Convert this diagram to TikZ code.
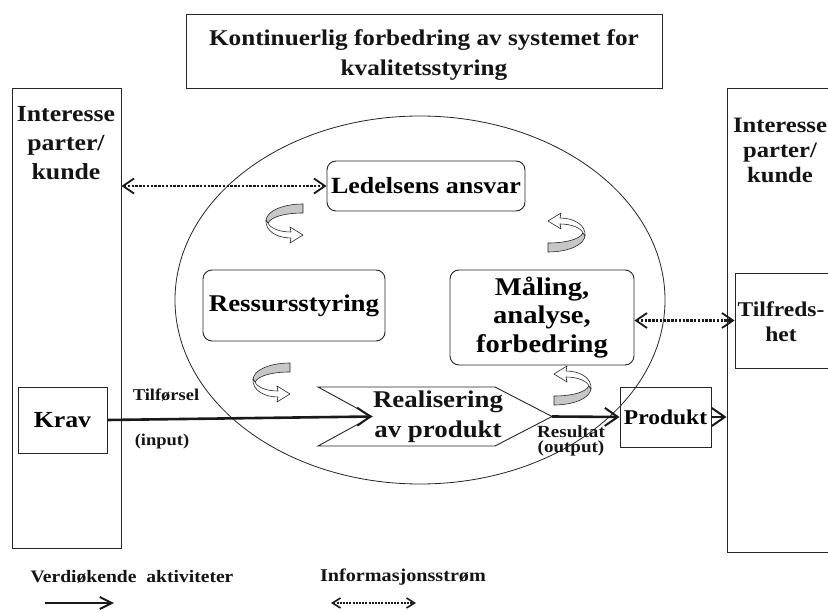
\documentclass[tikz,border=0pt]{standalone}
\usepackage{fontspec}
\setmainfont{Liberation Serif}[FakeStretch=1.12]
\usetikzlibrary{arrows.meta}
\newcommand\tsize[2]{\fontsize{#1}{#2}\selectfont\bfseries}

\begin{document}
\begin{tikzpicture}[x=1pt,y=-1pt,
  frame/.style={draw=black!85, line width=0.9pt, inner sep=0pt},
  rframe/.style={draw=black!85, line width=0.9pt, rounded corners=9pt, inner sep=0pt},
  lbl/.style={align=center, inner sep=0pt, text=black!92},
  flow/.style={line width=2.6pt, draw=black!90, -{Straight Barb[length=13pt,width=18pt,line width=2pt]}},
  info/.style={line width=2.4pt, draw=black!90, dash pattern=on 2.4pt off 1.4pt,
    {Straight Barb[length=11pt,width=15pt,line width=1.8pt]}-{Straight Barb[length=11pt,width=15pt,line width=1.8pt]}},
  back/.style={fill=black!22, draw=black!85, line width=0.6pt, line join=round},
  front/.style={fill=white, draw=black!85, line width=0.6pt, line join=round},
  twirl/.pic={
    \path[back] (38,0) -- (38,9) .. controls (22,9) and (7,12) .. (3,19)
      -- (1,17) .. controls (1,7) and (18,0) .. (38,0) -- cycle;
    \path[front] (1,16) .. controls (0,27) and (12,34) .. (26,34) -- (25,39) -- (38,31)
      -- (25,23) -- (26,28) .. controls (14,28) and (5,24) .. (3,19) -- cycle;
  },
]
\clip (0,0) rectangle (828,612);
\fill[white] (0,0) rectangle (828,612);

% heading
\node[frame, minimum width=476pt, minimum height=74pt] (title) at (424,51) {};
\node[lbl, font=\tsize{22.5}{30}] (titletext) at (424,55)
  {Kontinuerlig forbedring av systemet for\\kvalitetsstyring};

% the process circle
\draw[black!85, line width=0.8pt] (420,300) ellipse [x radius=245, y radius=184];

% stakeholders on both sides
\node[frame, minimum width=109pt, minimum height=460pt] (lstake) at (66.5,318) {};
\node[lbl, font=\tsize{23}{29}] (ltext) at (66,143) {Interesse\\parter/\\kunde};
\node[frame, minimum width=133pt, minimum height=464pt] (rstake) at (793.5,320) {};
\node[lbl, font=\tsize{22}{25}] (rtext) at (780,150) {Interesse\\parter/\\kunde};

\node[frame, minimum width=89pt, minimum height=66pt, font=\tsize{23}{28}] (krav) at (62.5,420) {Krav};
\node[frame, minimum width=125pt, minimum height=95pt] (tilf) at (797.5,320.5) {};
\node[lbl, font=\tsize{21}{25}] (tilftext) at (781,322) {Tilfreds-\\het};
\node[frame, minimum width=91pt, minimum height=60pt, font=\tsize{21}{25}] (prod) at (665.5,417) {Produkt};

% processes
\node[rframe, minimum width=198pt, minimum height=50pt, font=\tsize{23.2}{28}] (led) at (426,186) {Ledelsens ansvar};
\node[rframe, minimum width=182pt, minimum height=71pt, font=\tsize{24}{28}] (res) at (294,305.5) {Ressursstyring};
\node[rframe, minimum width=184pt, minimum height=95pt, font=\tsize{25.5}{28.5}, align=center] (maal) at (542,317.5) {Måling,\\analyse,\\forbedring};

% product realisation arrow shape
\coordinate (rnotch) at (372,416.5);
\coordinate (rtip) at (552,416.5);
\draw[black!85, line width=0.9pt, fill=white, line join=miter]
  (318,387) -- (495,387) -- (rtip) -- (495,446) -- (318,446) -- (rnotch) -- cycle;
\node[lbl, font=\tsize{24}{30}] (real) at (438,417) {Realisering\\av produkt};

% value-adding flow
\draw[flow] (krav.east) -- (rnotch);
\draw[flow] (rtip) -- (prod.west);
\draw[flow] (prod.east) -- (rstake.west |- prod.east);
\node[lbl, font=\tsize{16.5}{18}] (inlbl) at (166,395) {Tilførsel};
\node[lbl, font=\tsize{16.5}{18}] (inlbl2) at (162,442) {(input)};
\node[lbl, font=\tsize{17}{15.5}] (outlbl) at (571,441) {Resultat\\(output)};

% information flow
\draw[info] (lstake.east |- led.west) -- (led.west);
\draw[info] (maal.east |- tilf.west) -- (tilf.west);

% improvement cycle arrows
\pic at (265,204) {twirl};
\pic at (252,363) {twirl};
\pic[rotate=180] at (586,252) {twirl};
\pic[rotate=180] at (592,405) {twirl};

% legend
\node[lbl, font=\tsize{17.5}{20}] (leg1) at (132,577) {Verdiøkende\ \ aktiviteter};
\node[lbl, font=\tsize{18}{20}] (leg2) at (403,577) {Informasjonsstrøm};
\coordinate (leg1a) at (45,603);
\coordinate (leg1b) at (114,603);
\coordinate (leg2a) at (331,603);
\coordinate (leg2b) at (416,603);
\draw[line width=2.6pt, draw=black!90, -{Straight Barb[length=12pt,width=12pt,line width=2pt]}] (leg1a) -- (leg1b);
\draw[line width=2pt, draw=black!90, dash pattern=on 2pt off 1.2pt,
  {Straight Barb[length=8pt,width=10pt,line width=1.6pt]}-{Straight Barb[length=8pt,width=10pt,line width=1.6pt]}] (leg2a) -- (leg2b);
\end{tikzpicture}
\end{document}
